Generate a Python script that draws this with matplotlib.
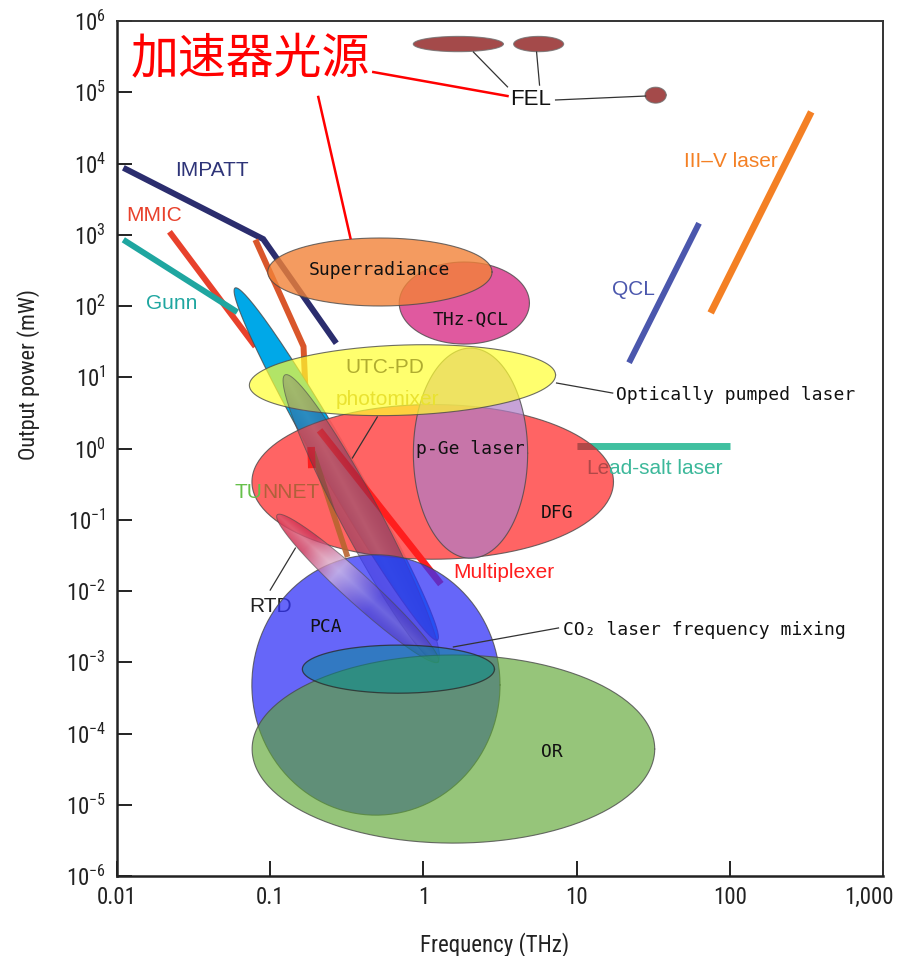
import numpy as np
import matplotlib
matplotlib.use("Agg")
import matplotlib.pyplot as plt
import matplotlib.transforms as mtransforms
from matplotlib import font_manager

# ── Fonts ────────────────────────────────────────────────────────────────────
_fonts = font_manager.fontManager.ttflist
_names = {f.name for f in _fonts}
SANS = "Liberation Sans"
MONO = "DejaVu Sans Mono"
CJK = "Noto Sans CJK SC"

# tick labels look best in a condensed face when one is installed
COND = None
for cand in ("Liberation Sans Narrow", "Roboto Condensed", "Noto Sans Condensed",
             "Open Sans Condensed", "DejaVu Sans Condensed", "Arial Narrow"):
    if cand in _names:
        COND = cand
        break
if COND is None and any(f.name == "DejaVu Sans" and f.stretch == "condensed"
                        for f in _fonts):
    COND = "DejaVu Sans:stretch=condensed"

if COND is None:
    TICK_FAMILY, TICK_SIZE, TICK_STRETCH = SANS, 14, "normal"
elif ":" in COND:
    TICK_FAMILY, TICK_SIZE, TICK_STRETCH = "DejaVu Sans", 15.5, "condensed"
else:
    TICK_FAMILY, TICK_SIZE, TICK_STRETCH = COND, 16.5, "normal"

plt.rcParams["font.family"] = [SANS, "DejaVu Sans"]
plt.rcParams["mathtext.fontset"] = "custom"
plt.rcParams["mathtext.rm"] = COND if COND and ":" in COND else TICK_FAMILY
plt.rcParams["mathtext.it"] = plt.rcParams["mathtext.rm"]

# ── Axes ─────────────────────────────────────────────────────────────────────
XTICKS = [0.01, 0.1, 1, 10, 100, 1000]
XTICK_LABELS = ["0.01", "0.1", "1", "10", "100", "1,000"]
YEXP = list(range(-6, 7))

# ── Line-type sources (frequency THz, power mW) ──────────────────────────────
impatt_f = [0.011, 0.09, 0.27]
impatt_p = [8700, 870, 30]
mmic_f = [0.022, 0.08]
mmic_p = [1100, 27]
mmic2_f = [0.08, 0.165, 0.172]
mmic2_p = [850, 27, 3.5]
gunn_f = [0.011, 0.061]
gunn_p = [850, 82]
tunnet_f = [0.19, 0.32]
tunnet_p = [0.9, 0.03]
mux_top_f = [0.185, 0.187]
mux_top_p = [1.05, 0.53]
mux_f = [0.21, 1.3]
mux_p = [1.8, 0.0125]
leadsalt_f = [10, 100]
leadsalt_p = [1.1, 1.1]
qcl_f = [22, 63]
qcl_p = [16, 1450]
iiiv_f = [75, 340]
iiiv_p = [80, 53000]

# ── Region-type sources: centre (THz, mW), semi-axes in x-decades, tilt deg ──
superrad = (0.52, 300, 0.732, 0.222, 0)
thz_qcl = (1.85, 110, 0.425, 0.268, 0)
utc_pd = (0.73, 9.1, 1.0, 0.229, 2)
dfg = (1.15, 0.34, 1.18, 0.505, 0)
pge = (2.03, 0.86, 0.373, 0.686, 0)
pca = (0.49, 4.8e-4, 0.81, 0.85, 0)
optrect = (1.57, 6.05e-5, 1.314, 0.614, 0)
co2mix = (0.687, 8.0e-4, 0.627, 0.157, 0)
fel_a = (1.69, 4.75e5, 0.294, 0.05, 0)
fel_b = (5.65, 4.75e5, 0.163, 0.05, 0)
fel_c = (32.8, 9.1e4, 0.069, 0.052, 0)

# elongated regions given by their two tips and semi-minor axis (x-decades)
gunn_band = ((0.059, 179), (1.235, 0.00205), 0.108)
photomix_band = ((0.125, 10.8), (1.235, 0.00101), 0.13)
rtd_band = ((0.111, 0.117), (1.25, 0.00101), 0.092)

# ── Figure geometry ──────────────────────────────────────────────────────────
FIG_W, FIG_H = 9.04, 9.56
AX = [117 / 904, 1 - 876 / 956, 766 / 904, 855 / 956]
# display length of one y-decade relative to one x-decade
RATIO = (FIG_W * AX[2] / 5) / (FIG_H * AX[3] / 12)

fig = plt.figure(figsize=(FIG_W, FIG_H), dpi=100)
ax = fig.add_axes(AX)
ax.set_xscale("log")
ax.set_yscale("log")
ax.set_xlim(0.01, 1000)
ax.set_ylim(1e-6, 1e6)


def ellipse(spec, n=240):
    cx, cy, a, b, ang = spec
    t = np.linspace(0, 2 * np.pi, n)
    u, v = a * np.cos(t), b * np.sin(t)
    th = np.radians(ang)
    dx = u * np.cos(th) - v * np.sin(th)
    dy = (u * np.sin(th) + v * np.cos(th)) * RATIO
    return cx * 10 ** dx, cy * 10 ** dy


def band_frame(band):
    (f1, p1), (f2, p2), b = band
    x1, y1 = np.log10(f1), np.log10(p1) / RATIO
    x2, y2 = np.log10(f2), np.log10(p2) / RATIO
    cx, cy = (x1 + x2) / 2, (y1 + y2) / 2
    a = np.hypot(x2 - x1, y2 - y1) / 2
    th = np.arctan2(y2 - y1, x2 - x1)
    return cx, cy, a, b, th


def band_outline(band, n=240):
    cx, cy, a, b, th = band_frame(band)
    t = np.linspace(0, 2 * np.pi, n)
    u, v = a * np.cos(t), b * np.sin(t)
    X = cx + u * np.cos(th) - v * np.sin(th)
    Y = cy + u * np.sin(th) + v * np.cos(th)
    return 10 ** X, 10 ** (Y * RATIO)


def fill_ellipse(spec, color, alpha, z, ec="#4a4a4a", lw=0.8):
    xs, ys = ellipse(spec)
    ax.fill(xs, ys, color=color, alpha=alpha, lw=0, zorder=z)
    ax.plot(xs, ys, color=ec, lw=lw, alpha=0.8, zorder=z + 0.01)


def fill_band(band, color, alpha, z, ec="#4a4a4a", lw=0.8):
    xs, ys = band_outline(band)
    ax.fill(xs, ys, color=color, alpha=alpha, lw=0, zorder=z)
    ax.plot(xs, ys, color=ec, lw=lw, alpha=0.8, zorder=z + 0.01)


def clip_to(spec):
    xs, ys = ellipse(spec)
    patch = plt.Polygon(np.column_stack([xs, ys]), closed=True,
                        transform=ax.transData, fill=False, lw=0)
    ax.add_patch(patch)
    return patch


def gradient_band(band, stops, z, glow_amt=0.25, res=500):
    # RGBA gradient along the long axis, with a soft highlight down the middle,
    # rendered in axes space and clipped to the ellipse outline
    cx, cy, a, b, th = band_frame(band)
    xs, ys = band_outline(band)
    fx = (np.log10(xs) + 2) / 5
    fy = (np.log10(ys) + 6) / 12
    x0, x1, y0, y1 = fx.min(), fx.max(), fy.min(), fy.max()
    gx, gy = np.meshgrid(np.linspace(x0, x1, res), np.linspace(y0, y1, res))
    X = -2 + 5 * gx
    Y = (-6 + 12 * gy) / RATIO
    u = (X - cx) * np.cos(th) + (Y - cy) * np.sin(th)
    v = -(X - cx) * np.sin(th) + (Y - cy) * np.cos(th)
    f = np.clip((u + a) / (2 * a), 0, 1)
    pos = np.array([s[0] for s in stops])
    cols = np.array([s[1] for s in stops])
    img = np.dstack([np.interp(f, pos, cols[:, k]) for k in range(4)])
    glow = np.clip(1 - np.abs(v) / b, 0, 1) ** 1.5
    img[..., :3] = img[..., :3] + (1 - img[..., :3]) * glow_amt * glow[..., None]
    im = ax.imshow(img, extent=(x0, x1, y0, y1), origin="lower",
                   transform=ax.transAxes, interpolation="bilinear",
                   aspect="auto", zorder=z)
    clip = plt.Polygon(np.column_stack([xs, ys]), closed=True,
                       transform=ax.transData, fill=False, lw=0)
    ax.add_patch(clip)
    im.set_clip_path(clip)
    ax.plot(xs, ys, color="#4a4a4a", lw=0.7, alpha=0.6, zorder=z + 0.01)


def split_label(xy, head, tail, c_head, c_tail, z):
    # one label in two colours: the tail continues straight after the head
    kw = dict(fontsize=15, family=SANS, zorder=z)
    t1 = ax.text(*xy, head, color=c_head, ha="left", va="center", **kw)
    ax.annotate(tail, xy=(1, 0.5), xycoords=t1, color=c_tail,
                ha="left", va="center", **kw)


def seg(fx, py, color, lw, z, alpha=1.0):
    return ax.plot(fx, py, color=color, lw=lw, alpha=alpha, zorder=z,
                   solid_capstyle="butt", solid_joinstyle="miter")[0]


def lead(fx, py, color="#333333", lw=0.9, z=20):
    ax.plot(fx, py, color=color, lw=lw, zorder=z)


# ── Electronic sources (drawn underneath the translucent regions) ────────────
seg(impatt_f, impatt_p, "#2b2d6e", 4.3, 1)
seg(mmic_f, mmic_p, "#e8412c", 4.3, 1)
seg(mmic2_f, mmic2_p, "#d9562b", 4.3, 1)
seg(gunn_f, gunn_p, "#1fa6a0", 4.3, 1)
seg(leadsalt_f, leadsalt_p, "#40c0a0", 5.0, 1)
seg(qcl_f, qcl_p, "#4b57ad", 4.3, 1)
seg(iiiv_f, iiiv_p, "#f48024", 5.0, 1)

for spec in (fel_a, fel_b, fel_c):
    fill_ellipse(spec, "#a44a4a", 1.0, 2, ec="#707070")

fill_band(gunn_band, (0.0, 0.66, 0.91), 1.0, 1.5)

lab_kw = dict(fontsize=15, family=SANS, ha="center", va="center")
ax.text(0.1, 0.00615, "RTD", color="#222222", zorder=2, **lab_kw)

fill_ellipse(thz_qcl, (0.85, 0.19, 0.53), 0.8, 3)
fill_ellipse(superrad, (0.95, 0.51, 0.22), 0.8, 3.1)
fill_ellipse(dfg, (1.0, 0.34, 0.34), 0.92, 3.2)

# labels whose right/left part falls inside the DFG region look darker there
split_label((0.0582, 0.245), "TU", "NNET", "#66c04a", "#b0603a", 3.25)
split_label((11.5, 0.53), "Le", "ad-salt laser", "#b04848", "#3cb89a", 3.25)
ls = seg(leadsalt_f, leadsalt_p, "#b04848", 5.0, 3.25)
ls.set_clip_path(clip_to(dfg))

fill_ellipse(pge, (0.69, 0.49, 0.78), 0.7, 3.3)

ax.text(0.582, 4.8, "photomixer", color="#b8a030", zorder=3.4, **lab_kw)
fill_ellipse(utc_pd, (1.0, 1.0, 0.19), 0.7, 3.5)
ax.text(0.556, 13.5, "UTC-PD", color="#b0ac30", zorder=3.6, **lab_kw)

seg(tunnet_f, tunnet_p, "#b8642e", 4.0, 3.7, alpha=0.9)
seg(mux_top_f, mux_top_p, "#ff1e1e", 5.5, 3.7)
seg(mux_f, mux_p, "#ff1e1e", 5.0, 3.7)

gradient_band(photomix_band, [(0.0, (0.40, 0.24, 0.36, 0.30)),
                              (0.3, (0.36, 0.18, 0.36, 0.42)),
                              (1.0, (0.30, 0.16, 0.42, 0.45))], 3.8,
              glow_amt=0.18)

fill_ellipse(pca, (0.2, 0.2, 0.97), 0.75, 4)
gradient_band(rtd_band, [(0.0, (0.84, 0.10, 0.22, 0.85)),
                         (0.2, (0.78, 0.16, 0.32, 0.80)),
                         (0.38, (0.82, 0.70, 0.86, 0.75)),
                         (0.6, (0.30, 0.22, 0.76, 0.55)),
                         (1.0, (0.20, 0.14, 0.55, 0.45))], 4.5)
fill_ellipse(optrect, (0.37, 0.65, 0.20), 0.65, 5)
fill_ellipse(co2mix, (0.0, 0.55, 0.55), 0.5, 5.5, ec="#2a2a2a", lw=0.9)

# ── Leader lines ─────────────────────────────────────────────────────────────
lead([2.12, 3.54], [3.67e5, 1.19e5])
lead([5.48, 5.73], [3.67e5, 1.26e5])
lead([7.29, 28.2], [7.79e4, 8.85e4])
lead([7.4, 17.2], [8.3, 6.0])
lead([1.57, 7.62], [1.64e-3, 3.03e-3])
lead([0.1, 0.146], [0.0103, 0.040], z=3)
lead([0.50, 0.344], [2.77, 0.736], z=3.35)
lead([0.471, 3.54], [1.92e5, 8.85e4], color="#ff0000", lw=1.8)
lead([0.206, 0.334], [8.58e4, 900], color="#ff0000", lw=1.8)

# ── Labels ───────────────────────────────────────────────────────────────────
ax.text(0.074, 2.84e5, "加速器光源", color="#ff0000", fontsize=34.5, family=CJK,
        ha="center", va="center", zorder=21)
ax.text(5.0, 7.8e4, "FEL", color="#111111", fontsize=16, family=SANS,
        ha="center", va="center", zorder=21)
ax.text(0.0418, 8100, "IMPATT", color="#2e3478", zorder=21, **lab_kw)
ax.text(0.0175, 1890, "MMIC", color="#e8412c", zorder=21, **lab_kw)
ax.text(0.0229, 110, "Gunn", color="#1fa6a0", zorder=21, **lab_kw)
ax.text(23.6, 168, "QCL", color="#4b57ad", zorder=21, **lab_kw)
ax.text(101.6, 1.05e4, "III–V laser", color="#f48024", zorder=21, **lab_kw)
ax.text(3.33, 0.0179, "Multiplexer", color="#ff1e1e", zorder=21, **lab_kw)

mono = dict(family=MONO, fontsize=13, color="#111111", va="center", zorder=21)
ax.text(0.52, 320, "Superradiance", ha="center", **mono)
ax.text(2.03, 64, "THz-QCL", ha="center", **mono)
ax.text(18, 5.6, "Optically pumped laser", ha="left", **mono)
ax.text(2.03, 1.0, "p-Ge laser", ha="center", **mono)
ax.text(7.5, 0.124, "DFG", ha="center", **mono)
ax.text(0.229, 3.1e-3, "PCA", ha="center", **mono)
ax.text(8.2, 2.84e-3, "CO₂ laser frequency mixing", ha="left", **mono)
ax.text(6.87, 5.5e-5, "OR", ha="center", **mono)

# ── Ticks and frame ──────────────────────────────────────────────────────────
ax.set_xticks(XTICKS)
ax.set_xticklabels(XTICK_LABELS)
ax.set_yticks([10.0 ** e for e in YEXP])
ax.set_yticklabels([r"$\mathregular{10^{%d}}$" % e for e in YEXP])
ax.minorticks_off()
ax.tick_params(direction="in", length=11, width=1.4, labelsize=TICK_SIZE,
               colors="#222222", top=False, right=False)
ax.tick_params(axis="x", pad=7)
ax.tick_params(axis="y", pad=8)
for lab in ax.get_xticklabels() + ax.get_yticklabels():
    lab.set_family(TICK_FAMILY)
    lab.set_stretch(TICK_STRETCH)
# the last frequency label sits a little inside the frame edge
last = ax.get_xticklabels()[-1]
last.set_transform(last.get_transform() + mtransforms.ScaledTranslation(
    -10 / 72, 0, fig.dpi_scale_trans))

for side in ("left", "bottom"):
    ax.spines[side].set_linewidth(1.8)
    ax.spines[side].set_color("#222222")
for side in ("top", "right"):
    ax.spines[side].set_linewidth(1.4)
    ax.spines[side].set_color("#333333")

ax.set_xlabel("Frequency (THz)", fontsize=16.5, color="#222222",
              family=TICK_FAMILY, stretch=TICK_STRETCH)
ax.set_ylabel("Output power (mW)", fontsize=16, color="#222222",
              family=TICK_FAMILY, stretch=TICK_STRETCH)
ax.xaxis.set_label_coords(0.4935, -0.0655)
ax.yaxis.set_label_coords(-0.1005, 0.586)

fig.savefig("out.png", dpi=100, facecolor="white")
